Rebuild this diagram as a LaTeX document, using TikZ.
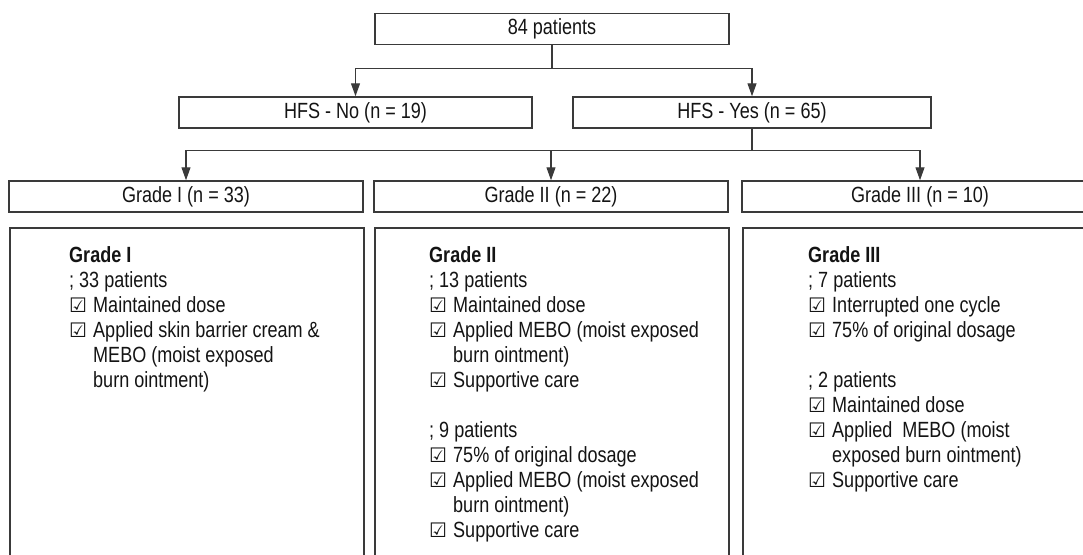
\documentclass[tikz,border=0pt]{standalone}
\usepackage{fontspec}
\setmainfont{Liberation Sans}[FakeStretch=0.82]
\newfontfamily\ckfont{DejaVu Sans}
\usepackage{xcolor}
\usetikzlibrary{arrows.meta}
\definecolor{linegray}{HTML}{3A3A3A}
\definecolor{textgray}{HTML}{141414}
\newcommand{\chk}{\makebox[24pt][l]{{\ckfont\fontsize{20}{20}\selectfont\char"2611}}}
\newcommand{\ind}{\hspace*{24pt}}

\begin{document}
\begin{tikzpicture}[x=1pt, y=-1pt,
    box/.style={draw=linegray, line width=1.5pt, minimum height=31pt, inner sep=0pt, text=textgray, font=\fontsize{22}{25}\selectfont},
    panel/.style={draw=linegray, line width=1.5pt, anchor=north west, minimum height=400pt, inner sep=0pt},
    info/.style={anchor=north west, inner sep=0pt, align=left, text=textgray, font=\fontsize{22}{25}\selectfont},
    arr/.style={draw=linegray, line width=1.2pt, -{Triangle[length=13pt,width=9pt]}}]
    \path[use as bounding box] (0,0) rectangle (1083,554);
    \clip (0,0) rectangle (1083,554);

    \node[box, minimum width=354pt] (total) at (552,29) {84 patients};
    \node[box, minimum width=353pt] (hfsno) at (355.5,112.5) {HFS - No (n = 19)};
    \node[box, minimum width=358pt] (hfsyes) at (752,112.5) {HFS - Yes (n = 65)};

    \node[box, minimum width=354pt] (g1) at (186,196.5) {Grade I (n = 33)};
    \node[box, minimum width=354pt] (g2) at (551,196.5) {Grade II (n = 22)};
    \node[box, minimum width=356pt] (g3) at (920,196.5) {Grade III (n = 10)};

    \draw[arr] (total.south) -- ++(0,23) -| (hfsno.north);
    \draw[arr] (total.south) -- ++(0,23) -| (hfsyes.north);
    \draw[arr] (hfsyes.south) -- ++(0,22) -| (g1.north);
    \draw[arr] (hfsyes.south) -- ++(0,22) -| (g2.north);
    \draw[arr] (hfsyes.south) -- ++(0,22) -| (g3.north);

    \node[panel, minimum width=354pt] (p1) at (9,227) {};
    \node[panel, minimum width=354pt] (p2) at (374,227) {};
    \node[panel, minimum width=360pt] (p3) at (742,227) {};

    \node[info] (t1) at (69,246) {\textbf{Grade I}\\
        ; 33 patients\\
        \chk Maintained dose\\
        \chk Applied skin barrier cream \&\\
        \ind MEBO (moist exposed\\
        \ind burn ointment)};
    \node[info] (t2) at (429,246) {\textbf{Grade II}\\
        ; 13 patients\\
        \chk Maintained dose\\
        \chk Applied MEBO (moist exposed\\
        \ind burn ointment)\\
        \chk Supportive care\\[25pt]
        ; 9 patients\\
        \chk 75\% of original dosage\\
        \chk Applied MEBO (moist exposed\\
        \ind burn ointment)\\
        \chk Supportive care};
    \node[info] (t3) at (808,246) {\textbf{Grade III}\\
        ; 7 patients\\
        \chk Interrupted one cycle\\
        \chk 75\% of original dosage\\[25pt]
        ; 2 patients\\
        \chk Maintained dose\\
        \chk Applied\ \ MEBO (moist\\
        \ind exposed burn ointment)\\
        \chk Supportive care};
\end{tikzpicture}
\end{document}
